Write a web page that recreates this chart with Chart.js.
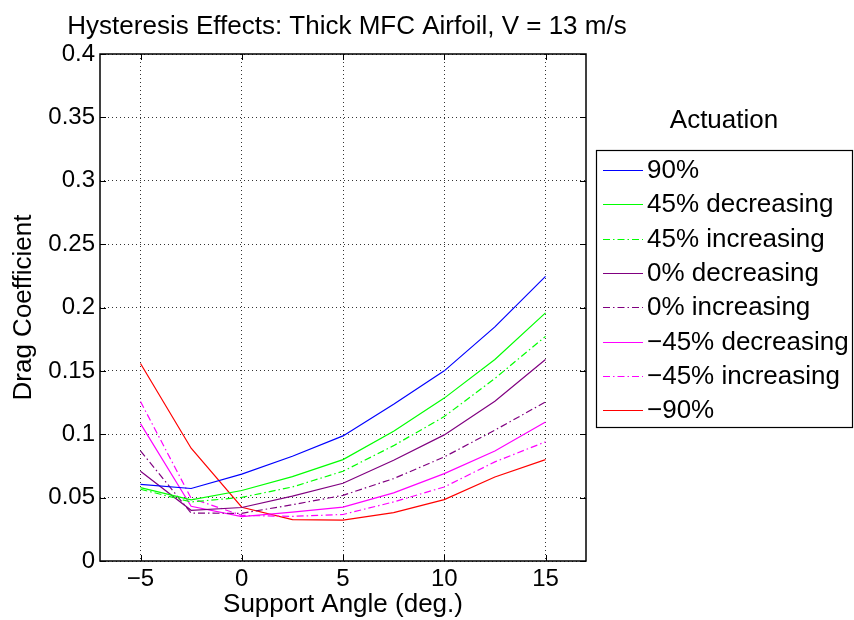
<!DOCTYPE html>
<html><head><meta charset="utf-8">
<script src="https://cdn.jsdelivr.net/npm/chart.js@4.4.1/dist/chart.umd.min.js"></script>
<style>html,body{margin:0;padding:0;background:#fff}#wrap{width:854px;height:620px;position:relative}</style>
</head><body><div id="wrap"><canvas id="c" width="854" height="620"></canvas></div>
<script>
// ---- data ----
const angles = [-5, -2.5, 0, 2.5, 5, 7.5, 10, 12.5, 15];
const act90 = [0.0605, 0.0572, 0.0685, 0.0826, 0.0987, 0.1237, 0.1500, 0.1847, 0.2245];
const act45dec = [0.0579, 0.0483, 0.0556, 0.0666, 0.0800, 0.1024, 0.1285, 0.1590, 0.1958];
const act45inc = [0.0566, 0.0466, 0.0502, 0.0584, 0.0708, 0.0910, 0.1140, 0.1440, 0.1772];
const act0dec = [0.0708, 0.0400, 0.0422, 0.0512, 0.0613, 0.0795, 0.0995, 0.1260, 0.1590];
const act0inc = [0.0868, 0.0378, 0.0376, 0.0444, 0.0518, 0.0650, 0.0821, 0.1032, 0.1255];
const actm45dec = [0.1084, 0.0432, 0.0350, 0.0386, 0.0425, 0.0537, 0.0689, 0.0868, 0.1097];
const actm45inc = [0.1258, 0.0495, 0.0360, 0.0352, 0.0367, 0.0466, 0.0584, 0.0782, 0.0940];
const actm90 = [0.1558, 0.0890, 0.0424, 0.0326, 0.0323, 0.0382, 0.0484, 0.0663, 0.0800];
const seriesLabels = ['90%', '45% decreasing', '45% increasing', '0% decreasing', '0% increasing', '\u221245% decreasing', '\u221245% increasing', '\u221290%'];
const xTicks = [-5, 0, 5, 10, 15];
const xTickLabels = ['\u22125', '0', '5', '10', '15'];
const yTicks = [0, 0.05, 0.1, 0.15, 0.2, 0.25, 0.3, 0.35, 0.4];
const yTickLabels = ['0', '0.05', '0.1', '0.15', '0.2', '0.25', '0.3', '0.35', '0.4'];
const titleText = 'Hysteresis Effects: Thick MFC Airfoil, V = 13 m/s';
const legendTitle = 'Actuation';

// ---- styles ----
const FONT = "'Liberation Sans', Arial, Helvetica, sans-serif";
const seriesValues = [act90, act45dec, act45inc, act0dec, act0inc, actm45dec, actm45inc, actm90];
const seriesColors = ['#0000ff', '#00ff00', '#00ff00', '#800080', '#800080', '#ff00ff', '#ff00ff', '#ff0000'];
const DD = [7, 3, 1.5, 3];
const seriesDash = [[], [], DD, [], DD, [], DD, []];

const datasets = seriesValues.map((vals, i) => ({
  label: seriesLabels[i],
  data: vals.map((v, j) => ({x: angles[j], y: v})),
  borderColor: seriesColors[i],
  backgroundColor: seriesColors[i],
  borderWidth: 1.2,
  borderDash: seriesDash[i],
  pointRadius: 0,
  tension: 0,
  fill: false
}));

const decor = {
  id: 'decor',
  afterDatasetsDraw(chart) {
    const ctx = chart.ctx, a = chart.chartArea;
    const xs = chart.scales.x, ys = chart.scales.y;
    ctx.save();
    ctx.strokeStyle = '#000';
    ctx.lineWidth = 1.5;
    ctx.setLineDash([]);
    ctx.strokeRect(a.left, a.top, a.right - a.left, a.bottom - a.top);
    ctx.lineWidth = 1;
    ctx.beginPath();
    const TL = 6;
    xTicks.forEach(v => {
      const px = Math.round(xs.getPixelForValue(v)) + 0.5;
      ctx.moveTo(px, a.bottom); ctx.lineTo(px, a.bottom - TL);
      ctx.moveTo(px, a.top); ctx.lineTo(px, a.top + TL);
    });
    yTicks.forEach(v => {
      const py = Math.round(ys.getPixelForValue(v)) + 0.5;
      ctx.moveTo(a.left, py); ctx.lineTo(a.left + TL, py);
      ctx.moveTo(a.right, py); ctx.lineTo(a.right - TL, py);
    });
    ctx.stroke();
    ctx.restore();
  },
  afterDraw(chart) {
    const ctx = chart.ctx;
    ctx.save();
    ctx.fillStyle = '#000';
    ctx.font = '26px ' + FONT;
    ctx.textAlign = 'center';
    ctx.textBaseline = 'alphabetic';
    ctx.fillText(titleText, 347, 34);
    // legend
    ctx.fillText(legendTitle, 724, 128);
    ctx.strokeStyle = '#000';
    ctx.lineWidth = 1.2;
    ctx.strokeRect(596.5, 150.5, 256, 277);
    ctx.textAlign = 'left';
    ctx.textBaseline = 'middle';
    chart.data.datasets.forEach((ds, i) => {
      const y = 170 + i * 34.3;
      ctx.strokeStyle = ds.borderColor;
      ctx.lineWidth = ds.borderWidth;
      ctx.setLineDash(ds.borderDash);
      ctx.beginPath(); ctx.moveTo(603, Math.round(y) + 0.5); ctx.lineTo(643, Math.round(y) + 0.5); ctx.stroke();
      ctx.setLineDash([]);
      ctx.fillStyle = '#000';
      ctx.fillText(ds.label, 647, y + 1);
    });
    ctx.restore();
  }
};

new Chart(document.getElementById('c'), {
  type: 'line',
  data: {datasets},
  plugins: [decor],
  options: {
    responsive: false,
    animation: false,
    devicePixelRatio: 1,
    layout: {padding: {top: 54, right: 268, left: 0, bottom: 0}},
    plugins: {legend: {display: false}, title: {display: false}, tooltip: {enabled: false}},
    scales: {
      x: {
        type: 'linear', min: -7, max: 17,
        afterBuildTicks: s => { s.ticks = xTicks.map(v => ({value: v})); },
        afterFit: s => { s.height = 59; },
        ticks: {
          color: '#000', font: {family: FONT, size: 24}, padding: 4, maxRotation: 0, autoSkip: false,
          callback: (v) => xTickLabels[xTicks.indexOf(v)]
        },
        grid: {color: '#333', lineWidth: 1, drawTicks: false},
        border: {display: false, dash: [1, 3]},
        title: {display: true, text: 'Support Angle (deg.)', color: '#000', font: {family: FONT, size: 26}, padding: {top: 0, bottom: 0}}
      },
      y: {
        type: 'linear', min: 0, max: 0.4,
        afterBuildTicks: s => { s.ticks = yTicks.map(v => ({value: v})); },
        afterFit: s => { s.width = 100; },
        ticks: {
          color: '#000', font: {family: FONT, size: 24}, padding: 5, autoSkip: false,
          callback: (v) => yTickLabels[yTicks.indexOf(v)]
        },
        grid: {color: '#333', lineWidth: 1, drawTicks: false},
        border: {display: false, dash: [1, 3]},
        title: {display: true, text: 'Drag Coefficient', color: '#000', font: {family: FONT, size: 26}, padding: {top: 8, bottom: 0}}
      }
    }
  }
});
</script>
</body></html>
